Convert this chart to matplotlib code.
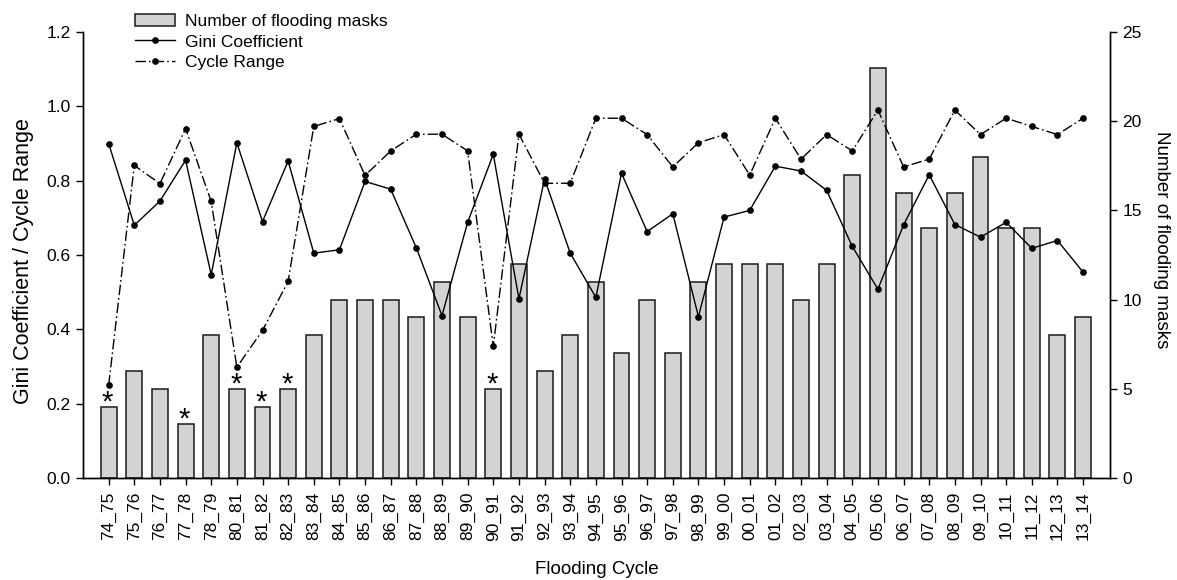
import numpy as np
import matplotlib
matplotlib.use("Agg")
import matplotlib.pyplot as plt

plt.rcParams['font.family'] = ['Liberation Sans', 'DejaVu Sans']

cycles = ['74_75', '75_76', '76_77', '77_78', '78_79', '80_81', '81_82', '82_83',
          '83_84', '84_85', '85_86', '86_87', '87_88', '88_89', '89_90', '90_91',
          '91_92', '92_93', '93_94', '94_95', '95_96', '96_97', '97_98', '98_99',
          '99_00', '00_01', '01_02', '02_03', '03_04', '04_05', '05_06', '06_07',
          '07_08', '08_09', '09_10', '10_11', '11_12', '12_13', '13_14']
masks = [4, 6, 5, 3, 8, 5, 4, 5, 8, 10, 10, 10, 9, 11, 9, 5, 12, 6, 8, 11,
         7, 10, 7, 11, 12, 12, 12, 10, 12, 17, 23, 16, 14, 16, 18, 14, 14, 8, 9]
gini = [0.900, 0.680, 0.745, 0.855, 0.547, 0.902, 0.690, 0.853, 0.605, 0.614,
        0.798, 0.777, 0.619, 0.437, 0.688, 0.871, 0.482, 0.805, 0.605, 0.486,
        0.820, 0.663, 0.711, 0.434, 0.702, 0.720, 0.839, 0.826, 0.774, 0.623,
        0.508, 0.681, 0.816, 0.682, 0.648, 0.688, 0.618, 0.639, 0.554]
cycle_range = [0.249, 0.841, 0.792, 0.940, 0.744, 0.298, 0.397, 0.529, 0.946, 0.967,
               0.814, 0.880, 0.925, 0.925, 0.880, 0.354, 0.925, 0.793, 0.793, 0.968,
               0.968, 0.924, 0.837, 0.902, 0.924, 0.815, 0.968, 0.858, 0.924, 0.880,
               0.990, 0.837, 0.858, 0.990, 0.924, 0.968, 0.946, 0.924, 0.968]
starred = ['74_75', '77_78', '80_81', '81_82', '82_83', '90_91']

fs = 12.5
x = np.arange(len(cycles))

fig = plt.figure(figsize=(11.77, 5.8), dpi=100)
ax = fig.add_axes([83 / 1177, 102 / 580, 1027 / 1177, 446 / 580])
ax2 = ax.twinx()

# bars on the right axis, lines drawn over them on the left axis
bars = ax2.bar(x, masks, width=0.62, color='#d3d3d3', edgecolor='#1a1a1a',
               linewidth=1.1, label='Number of flooding masks')
for i, c in enumerate(cycles):
    if c in starred:
        ax2.annotate('*', (i, masks[i]), xytext=(-0.8, -2.5), textcoords='offset points',
                     ha='center', va='baseline', fontsize=21)

l1, = ax.plot(x, gini, color='black', lw=1.0, marker='o', ms=3.8,
              label='Gini Coefficient')
l2, = ax.plot(x, cycle_range, color='black', lw=1.0, marker='o', ms=3.8,
              linestyle=(0, (7.5, 2.2, 1.2, 2.2)), label='Cycle Range')

ax.set_zorder(ax2.get_zorder() + 1)
ax.patch.set_visible(False)

ax.set_xlim(-1, 39.05)
ax.set_ylim(0, 1.2)
ax2.set_ylim(0, 25)
ax.set_yticks(np.arange(0, 1.21, 0.2))
ax.set_yticklabels(['%.1f' % v for v in np.arange(0, 1.21, 0.2)])
ax2.set_yticks([0, 5, 10, 15, 20, 25])
ax.set_xticks(x)
ax.set_xticklabels(cycles, rotation=90)

for a in (ax, ax2):
    a.spines['top'].set_visible(False)
    for s in a.spines.values():
        s.set_linewidth(1.0)
    a.tick_params(direction='out', length=5, width=1.0, labelsize=fs, pad=4)
ax.tick_params(axis='x', pad=5)

ax.set_ylabel('Gini Coefficient / Cycle Range', fontsize=15.5)
ax.yaxis.set_label_coords(-0.058, 0.487)
ax.yaxis.label.set_va('center')
ax2.set_ylabel('Number of flooding masks', fontsize=13.5, rotation=270)
ax2.yaxis.set_label_coords(1.0506, 0.534)
ax2.yaxis.label.set_va('center')
ax.set_xlabel('Flooding Cycle', fontsize=13.5)
ax.xaxis.set_label_coords(0.5, -0.206)
ax.xaxis.label.set_va('center')

fig.legend([bars, l1, l2], ['Number of flooding masks', 'Gini Coefficient', 'Cycle Range'],
           loc='upper left', bbox_to_anchor=(135 / 1177, 1 - 14 / 580),
           frameon=False, fontsize=fs, borderpad=0, borderaxespad=0,
           handlelength=2.3, handletextpad=0.6, labelspacing=0.3, numpoints=1)

fig.savefig('out.png', dpi=100)
